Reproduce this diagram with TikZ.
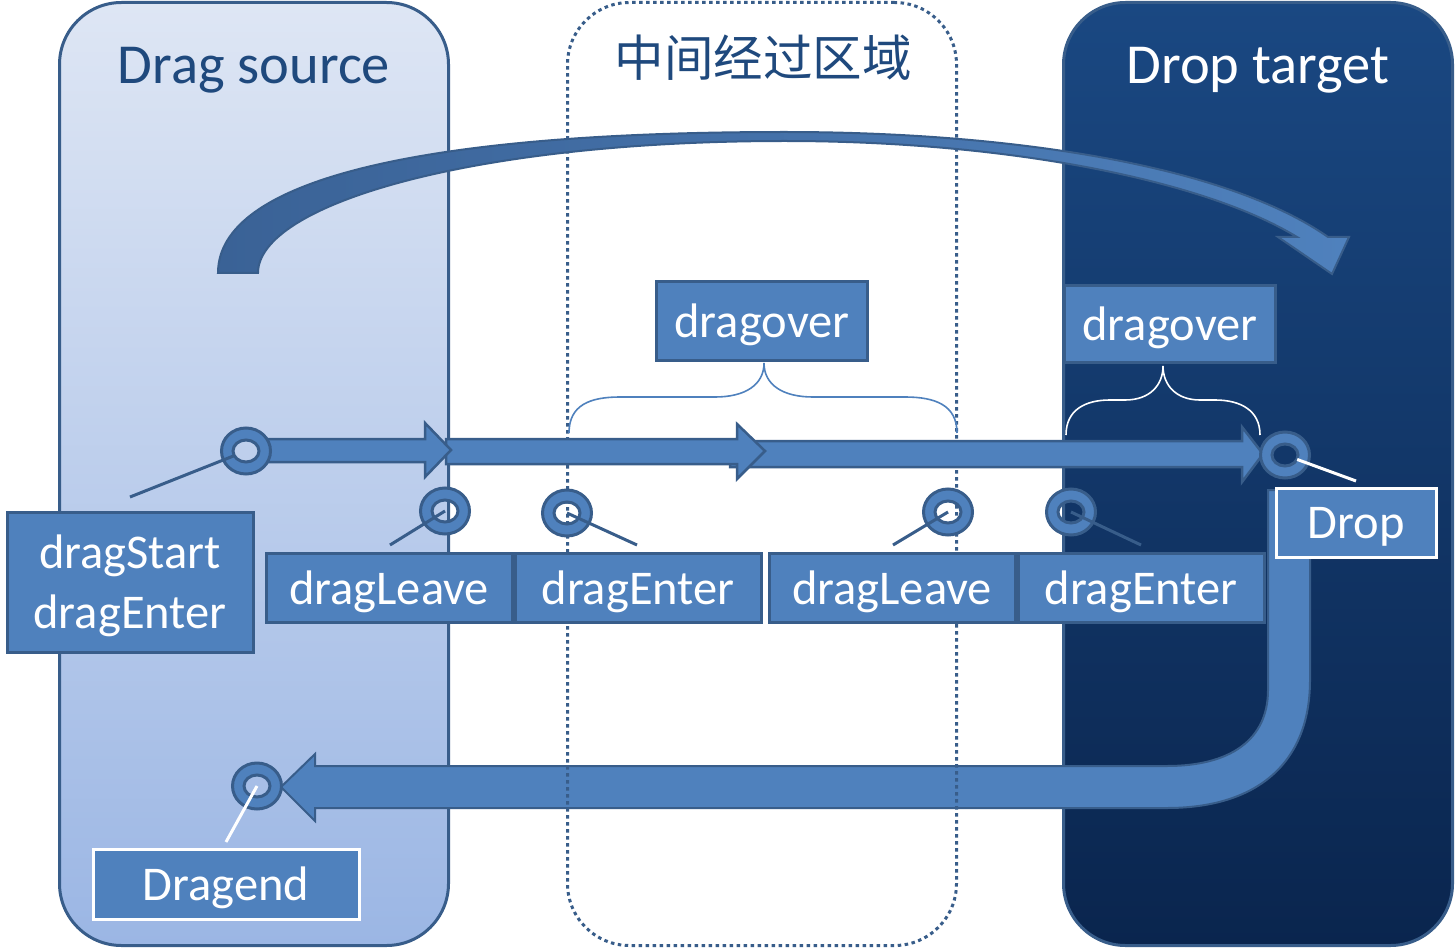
\documentclass[tikz,border=0pt]{standalone}
\usepackage{fontspec}
\setmainfont{Carlito}
\newfontfamily\cjkfont{Noto Sans CJK SC}
\usepackage{xcolor}
\usetikzlibrary{positioning}
\definecolor{BoxBlue}{RGB}{79,129,189}
\definecolor{EdgeBlue}{RGB}{56,93,138}
\definecolor{TitleBlue}{RGB}{31,73,125}
\definecolor{SrcTop}{RGB}{222,230,244}
\definecolor{SrcBottom}{RGB}{155,182,228}
\definecolor{TgtTop}{RGB}{26,72,130}
\definecolor{TgtBottom}{RGB}{10,37,78}
\definecolor{ArcDark}{RGB}{58,98,150}

\begin{document}
\begin{tikzpicture}[x=1pt, y=-1pt,
          column/.style={rectangle, rounded corners=62pt, minimum width=389pt, minimum height=943pt, line width=3pt},
          title/.style={anchor=base, font=\fontsize{56.5}{68}\selectfont},
          evbox/.style={rectangle, draw=EdgeBlue, fill=BoxBlue, line width=3pt, text=white, inner sep=0pt, text depth=0pt, align=center, font=\fontsize{48.5}{60}\selectfont},
          blockarrow/.style={fill=BoxBlue, draw=EdgeBlue, line width=2.5pt, line join=miter},
          ring/.style={fill=BoxBlue, draw=EdgeBlue, line width=3pt, even odd rule},
          pointer/.style={draw=EdgeBlue, line width=3pt},
          brace/.style={line width=1.6pt}
        ]
          \fill[white] (0,0) rectangle (1455,949);
          \useasboundingbox (0,0) rectangle (1455,949);
          % the three zones
          \node (src) [column, draw=EdgeBlue, top color=SrcTop, bottom color=SrcBottom] at (254,474) {};
          \node (tgt) [column, draw=EdgeBlue, top color=TgtTop, bottom color=TgtBottom] at (1258,474) {};
          % way back to the source
          \path[blockarrow, line width=2pt] (1268,490) -- (1268,690) .. controls (1268,740) and (1230,766) .. (1167,766)
            -- (315,766) -- (315,754) -- (281,787) -- (315,821) -- (315,808) -- (1167,808)
            .. controls (1255,808) and (1310,765) .. (1310,680) -- (1310,490) -- cycle;
          \node (mid) [column, draw=EdgeBlue, dash pattern=on 3.5pt off 3.5pt, line width=3pt] at (762,474) {};
          \node (srcTitle) [title, text=TitleBlue] at (254,84) {Drag source};
          \node (midTitle) [anchor=base, text=TitleBlue, font=\cjkfont\fontsize{49.5}{56}\selectfont] at (763,77) {中间经过区域};
          \node (tgtTitle) [title, text=white] at (1258,84) {Drop target};
          % moving arrows
          \path[blockarrow] (730,441) -- (1242,441) -- (1242,427) -- (1263,454) -- (1242,482) -- (1242,467) -- (730,467) -- cycle;
          \path[blockarrow] (446,439) -- (737,439) -- (737,424) -- (765,451) -- (737,479) -- (737,464) -- (446,464) -- cycle;
          \path[blockarrow] (262,439) -- (425,439) -- (425,423) -- (451,450) -- (425,477) -- (425,462) -- (262,462) -- cycle;
          \path[left color=ArcDark, right color=BoxBlue, draw=EdgeBlue, line width=2pt, line join=miter]
            (218,273) .. controls (218,180) and (420,132) .. (785,132) .. controls (1010,132) and (1225,165) .. (1328,237)
            -- (1349,237) -- (1332,274) -- (1278,237) -- (1297,237)
            .. controls (1200,178) and (1000,141) .. (785,141) .. controls (470,141) and (258,205) .. (258,273) -- cycle;
          % braces
          \draw[brace, draw=BoxBlue] (569,433) .. controls (569,405) and (590,397) .. (620,397) -- (715,397) .. controls (745,397) and (764,385) .. (764,363)
            .. controls (764,385) and (783,397) .. (813,397) -- (905,397) .. controls (935,397) and (957,405) .. (957,433);
          \draw[brace, draw=white] (1066,435) .. controls (1066,410) and (1085,400) .. (1110,400) -- (1125,400) .. controls (1150,400) and (1163,385) .. (1163,366)
            .. controls (1163,385) and (1176,400) .. (1200,400) -- (1215,400) .. controls (1240,400) and (1260,410) .. (1260,435);
          % event boxes
          \node (start) [evbox, minimum width=246pt, minimum height=140pt] at (130,582) {dragStart\\dragEnter};
          \node (leave1) [evbox, minimum width=246pt, minimum height=69pt] at (389,587.5) {dragLeave};
          \node (enter1) [evbox, minimum width=246pt, minimum height=69pt] at (638,587.5) {dragEnter};
          \node (leave2) [evbox, minimum width=246pt, minimum height=69pt] at (892,587.5) {dragLeave};
          \node (enter2) [evbox, minimum width=246pt, minimum height=69pt] at (1141,587.5) {dragEnter};
          \node (over1) [evbox, minimum width=211pt, minimum height=79pt] at (762,321) {dragover};
          \node (over2) [evbox, minimum width=211pt, minimum height=77pt] at (1170,324) {dragover};
          \node (drop) [evbox, draw=white, minimum width=160pt, minimum height=69pt] at (1356,523) {Drop};
          \node (dragend) [evbox, draw=white, minimum width=266pt, minimum height=70pt] at (226,884) {Dragend};
          % event points
          \coordinate (r1) at (246,451);
          \coordinate (r2) at (445,511);
          \coordinate (r3) at (567,513);
          \coordinate (r4) at (948,512);
          \coordinate (r5) at (1071,512);
          \coordinate (r6) at (1285,455);
          \coordinate (r7) at (257,786);
          \foreach \r in {r1,r2,r3,r4,r5,r6,r7}
            \path[ring] (\r) ellipse [x radius=24.5pt, y radius=23pt] (\r) ellipse [x radius=13pt, y radius=11pt];
          \coordinate (t1) at (130,497);
          \coordinate (t2) at (390,545);
          \coordinate (t3) at (637,545);
          \coordinate (t4) at (893,545);
          \coordinate (t5) at (1141,545);
          \coordinate (t6) at (1356,481);
          \coordinate (t7) at (226,842);
          \draw[pointer, shorten >=12pt] (t1) -- (r1);
          \draw[pointer] (t2) -- (r2);
          \draw[pointer] (r3) -- (t3);
          \draw[pointer] (t4) -- (r4);
          \draw[pointer] (r5) -- (t5);
          \draw[pointer, draw=white, shorten <=13pt] (r6) -- (t6);
          \draw[pointer, draw=white] (r7) -- (t7);
        \end{tikzpicture}
\end{document}
